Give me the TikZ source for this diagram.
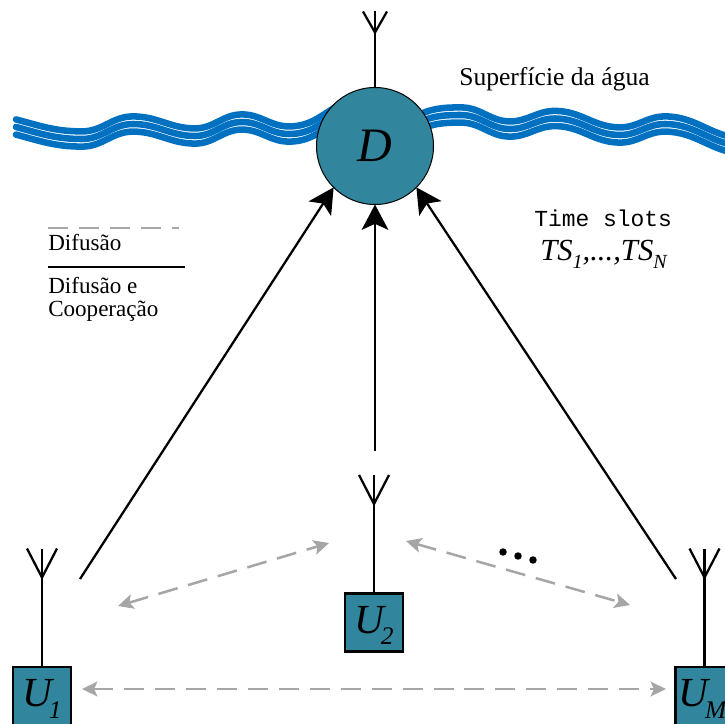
\documentclass[tikz,border=0pt]{standalone}
\usepackage{xcolor}
\usepackage{fontspec}
\setmainfont{Liberation Serif}
\setmonofont{Liberation Mono}
\usepackage{tikz}
\usetikzlibrary{arrows.meta, shapes}
\definecolor{nodeteal}{RGB}{49, 133, 156}
\definecolor{waterblue}{RGB}{0, 112, 192}
\definecolor{diffgray}{RGB}{166, 166, 166}
\newcommand{\subidx}[1]{\kern-2.5pt\raisebox{-8.5pt}{\fontsize{19}{19}\selectfont #1}}
\newcommand{\subts}[1]{\raisebox{-6pt}{\fontsize{15}{15}\selectfont #1}}
\tikzset{
    userbox/.style={draw=black, line width=1.9pt, fill=nodeteal, minimum size=43.5pt, inner sep=0pt, outer sep=0pt, text height=24pt, text depth=8pt, font=\fontsize{31}{31}\selectfont\itshape},
    antline/.style={line width=1.7pt, black},
    direct/.style={line width=1.7pt, black, -{Stealth[length=19pt, width=20pt, inset=4.5pt]}},
    diffuse/.style={line width=1.9pt, diffgray, dash pattern=on 15pt off 8.2pt, {Stealth[length=11.5pt, width=11pt, inset=2.5pt]}-{Stealth[length=11.5pt, width=11pt, inset=2.5pt]}},
    waveline/.style={line width=4.9pt, waterblue, line cap=round},
    legtext/.style={anchor=base west, inner sep=0pt, font=\fontsize{17.3}{17.3}\selectfont}
}

\begin{document}
\begin{tikzpicture}[x=0.75pt, y=-0.75pt]
    \clip (0,0) rectangle (725,724);

    % agua
    \foreach \dy in {-7.6,0,7.6} {
        \begin{scope}[shift={(0,\dy)}]
            \draw[waveline] (16,127) to[out=-15, in=180] (82,139) to[out=0, in=180] (133,124) to[out=0, in=180] (195,136) to[out=0, in=180] (242,122) to[out=0, in=180] (289,134) to[out=0, in=210] (340,112);
            \draw[waveline] (412,126) to[out=30, in=180] (461,115) to[out=0, in=180] (510,129) to[out=0, in=180] (555,118.5) to[out=0, in=180] (620,135) to[out=0, in=180] (665,124) to[out=0, in=180] (745,146);
        \end{scope}
    }

    % destino
    \node[circle, draw=black, line width=0.75pt, fill=nodeteal, minimum size=87.75pt, inner sep=0pt, outer sep=0pt, font=\fontsize{36}{36}\selectfont\itshape] (D) at (375,146) {D};
    \draw[antline] (D.north) -- ++(0,-76);
    \draw[antline] (D.north) ++(-12,-76) -- ++(12,21) -- ++(12,-21);

    % usuarios
    \node[userbox] (U1) at (42,696) {U\subidx{1}};
    \node[userbox] (U2) at (374,622.5) {U\subidx{2}};
    \node[userbox] (UM) at (704.5,696) {U\subidx{M}\hspace*{3pt}};
    \foreach \nd in {U1,U2,UM} {
        \draw[antline] (\nd.north) -- ++(0,-118.5);
        \draw[antline] (\nd.north) ++(-15,-118.5) -- ++(15,29) -- ++(15,-29);
    }

    % enlaces diretos
    \coordinate (fromU1) at (80,579);
    \coordinate (fromU2) at (375,451);
    \coordinate (fromUM) at (676,579);
    \draw[direct] (fromU1) -- (D.south west);
    \draw[direct] (fromU2) -- (D.south);
    \draw[direct] (fromUM) -- (D.south east);

    % difusao
    \coordinate (dl1) at (118,606);
    \coordinate (dl2) at (329,543);
    \coordinate (dr1) at (406,541);
    \coordinate (dr2) at (630,605);
    \coordinate (db1) at (82,689);
    \coordinate (db2) at (666,689);
    \draw[diffuse] (dl1) -- (dl2);
    \draw[diffuse] (dr1) -- (dr2);
    \draw[diffuse] (db1) -- (db2);
    \foreach \px/\py in {503/552, 518/556, 533/560} {
        \fill[black] (\px,\py) circle (2.8pt);
    }

    % legenda
    \coordinate (legA) at (48,228);
    \coordinate (legB) at (179,228);
    \coordinate (legC) at (48,267);
    \coordinate (legD) at (185,267);
    \draw[line width=1.9pt, diffgray, dash pattern=on 15pt off 8.2pt] (legA) -- (legB);
    \draw[line width=2pt, black] (legC) -- (legD);
    \node[legtext] (legdif) at (48,250) {Difusão};
    \node[legtext] (legcoop) at (48,293) {Difusão e};
    \node[legtext] (legcoop2) at (48,316) {Cooperação};

    % textos
    \node[anchor=base west, inner sep=0pt, font=\fontsize{19.2}{19.2}\selectfont] (surf) at (459,86) {Superfície da água};
    \node[anchor=base west, inner sep=0pt, font=\ttfamily\fontsize{17.2}{17.2}\selectfont] (slots) at (534,226) {Time slots};
    \node[anchor=base west, inner sep=0pt, font=\fontsize{23}{23}\selectfont\itshape] (tsn) at (540,260) {TS\subts{1},...,TS\subts{N}};
\end{tikzpicture}
\end{document}
